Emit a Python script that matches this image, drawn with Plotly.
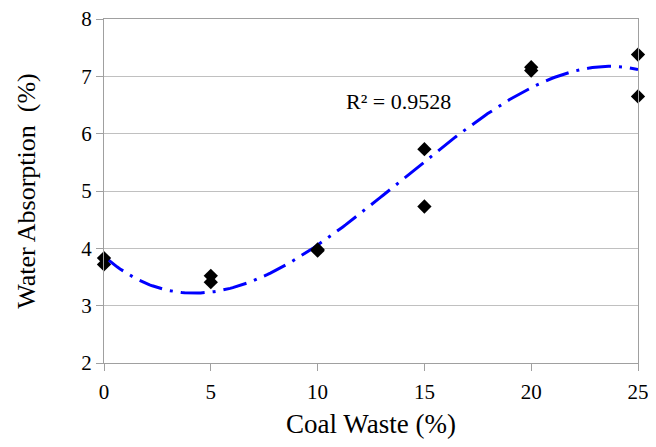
import numpy as np
import plotly.graph_objects as go

coal_waste = [0, 0, 5, 5, 10, 10, 15, 15, 20, 20, 25, 25]
water_absorption = [3.83, 3.72, 3.52, 3.41, 3.98, 3.96, 5.73, 4.73, 7.16, 7.10, 7.38, 6.65]
x_ticks = [0, 5, 10, 15, 20, 25]
y_ticks = [2, 3, 4, 5, 6, 7, 8]
r2_label = "R² = 0.9528"

# 3rd-order polynomial trendline fitted to the data
coef = np.polyfit(coal_waste, water_absorption, 3)
xs = np.linspace(0, 25, 200)
ys = np.polyval(coef, xs)

font = "Liberation Serif, Times New Roman, serif"
fig = go.Figure()
fig.add_trace(go.Scatter(x=xs, y=ys, mode="lines",
                         line=dict(color="#0000ff", width=3, dash="24px,8px,3px,8px"),
                         hoverinfo="skip", cliponaxis=False))
fig.add_trace(go.Scatter(x=coal_waste, y=water_absorption, mode="markers",
                         marker=dict(symbol="diamond", size=11, color="black"),
                         cliponaxis=False))
fig.add_annotation(x=13.8, y=6.56, text=r2_label, showarrow=False,
                   font=dict(family=font, size=22, color="black"))
fig.update_layout(
    width=640, height=431, showlegend=False,
    margin=dict(l=96, r=10, t=11, b=76),
    paper_bgcolor="white", plot_bgcolor="white",
    font=dict(family=font, size=21, color="black"),
)
fig.update_xaxes(range=[0, 25], tickvals=x_ticks, showgrid=False,
                 showline=True, linecolor="#a0a0a0", linewidth=1, mirror=True,
                 ticks="outside", ticklen=7, tickcolor="#a0a0a0",
                 ticklabeloverflow="allow", ticklabelstandoff=3,
                 title=dict(text="Coal Waste (%)", font=dict(size=27), standoff=22),
                 zeroline=False, automargin=False)
fig.update_yaxes(range=[2, 8], tickvals=y_ticks, showgrid=True, gridcolor="#c0c0c0",
                 showline=True, linecolor="#a0a0a0", linewidth=1, mirror=True,
                 ticks="outside", ticklen=7, tickcolor="#a0a0a0",
                 ticklabeloverflow="allow",
                 title=dict(text="Water Absorption  (%)", font=dict(size=26), standoff=38),
                 zeroline=False, automargin=False)
fig.write_html("out.html")
